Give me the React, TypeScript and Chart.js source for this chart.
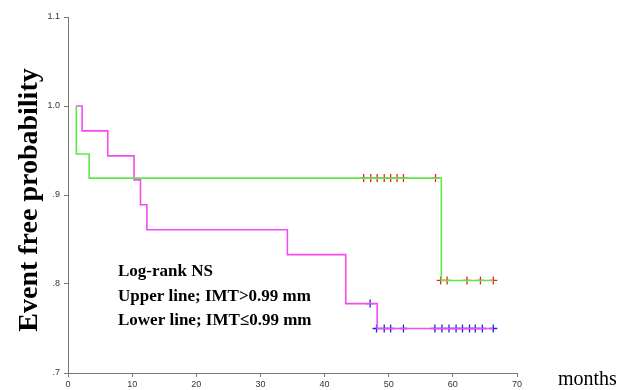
import React, { useEffect, useRef } from "react";
import { Chart, registerables } from "chart.js";

Chart.register(...registerables);

// Upper line (IMT > 0.99 mm) – step function
const upperTimes = [1.3, 1.3, 3.3, 58.2, 66.3];
const upperSurv = [1.0, 0.946, 0.919, 0.804, 0.804];
// Lower line (IMT ≤ 0.99 mm) – step function
const lowerTimes = [1.3, 2.2, 6.2, 10.3, 11.3, 12.3, 34.2, 43.3, 48.2, 66.3];
const lowerSurv = [1.0, 0.972, 0.944, 0.917, 0.889, 0.861, 0.833, 0.778, 0.75, 0.75];
// Censored observations
const upperCensorTimes = [46.1, 47.2, 48.2, 49.3, 50.3, 51.3, 52.3, 57.3, 58.1, 59.1, 62.2, 64.3, 66.3];
const upperCensorSurv = [0.919, 0.919, 0.919, 0.919, 0.919, 0.919, 0.919, 0.919, 0.804, 0.804, 0.804, 0.804, 0.804];
const lowerCensorTimes = [47.1, 48.1, 49.3, 50.3, 52.3, 57.2, 58.3, 59.4, 60.5, 61.5, 62.6, 63.5, 64.6, 66.3];
const lowerCensorSurv = [0.778, 0.75, 0.75, 0.75, 0.75, 0.75, 0.75, 0.75, 0.75, 0.75, 0.75, 0.75, 0.75, 0.75];

const xTicks = [0, 10, 20, 30, 40, 50, 60, 70];
const yTickValues = [0.7, 0.8, 0.9, 1.0, 1.1];
const yTickLabels = [".7", ".8", ".9", "1.0", "1.1"];

const annotationLines = ["Log-rank NS", "Upper line; IMT>0.99 mm", "Lower line; IMT\u22640.99 mm"];
const yTitle = "Event free probability";
const xTitle = "months";

const pts = (xs: number[], ys: number[]) => xs.map((x, i) => ({ x, y: ys[i] }));

export default function App() {
  const ref = useRef<HTMLCanvasElement | null>(null);

  useEffect(() => {
    if (!ref.current) return;
    const textPlugin = {
      id: "texts",
      afterDraw(chart: any) {
        const ctx = chart.ctx;
        const area = chart.chartArea;
        ctx.save();
        // y title
        ctx.fillStyle = "#000";
        ctx.font = "bold 28px 'Liberation Serif', 'Times New Roman', serif";
        ctx.textAlign = "center";
        ctx.textBaseline = "middle";
        ctx.translate(30, 200);
        ctx.rotate(-Math.PI / 2);
        ctx.fillText(yTitle, 0, 0);
        ctx.restore();

        ctx.save();
        ctx.fillStyle = "#000";
        ctx.font = "20px 'Liberation Serif', 'Times New Roman', serif";
        ctx.textAlign = "left";
        ctx.textBaseline = "middle";
        ctx.fillText(xTitle, area.right + 41, 380);

        ctx.font = "bold 17px 'Liberation Serif', 'Times New Roman', serif";
        const ys = [272, 297, 321];
        annotationLines.forEach((t, i) => ctx.fillText(t, 118, ys[i]));
        ctx.restore();
      },
    };

    const chart = new Chart(ref.current, {
      type: "scatter",
      data: {
        datasets: [
          {
            data: pts(upperTimes, upperSurv),
            showLine: true,
            stepped: "before",
            borderColor: "#5fe84a",
            borderWidth: 1.6,
            pointRadius: 0,
          },
          {
            data: pts(lowerTimes, lowerSurv),
            showLine: true,
            stepped: "before",
            borderColor: "#f24cf2",
            borderWidth: 1.6,
            pointRadius: 0,
          },
          {
            data: pts(upperCensorTimes, upperCensorSurv),
            showLine: false,
            pointStyle: "cross",
            pointRadius: 4,
            borderColor: "#ee2020",
            borderWidth: 1.3,
          },
          {
            data: pts(lowerCensorTimes, lowerCensorSurv),
            showLine: false,
            pointStyle: "cross",
            pointRadius: 4,
            borderColor: "#2020dd",
            borderWidth: 1.3,
          },
        ],
      },
      options: {
        animation: false,
        responsive: false,
        layout: { padding: { left: 0, right: 103, top: 17, bottom: 0 } },
        plugins: { legend: { display: false }, tooltip: { enabled: false } },
        scales: {
          x: {
            type: "linear",
            min: 0,
            max: 70,
            afterFit: (s: any) => {
              s.height = 17;
            },
            afterBuildTicks: (s: any) => {
              s.ticks = xTicks.map((v) => ({ value: v }));
            },
            ticks: {
              color: "#333",
              font: { family: "Arial, 'Liberation Sans', sans-serif", size: 9 },
              padding: 2,
            },
            grid: { display: true, drawOnChartArea: false, tickLength: 4, color: "#777" },
            border: { color: "#777", width: 1 },
          },
          y: {
            min: 0.7,
            max: 1.1,
            afterFit: (s: any) => {
              s.width = 68;
            },
            afterBuildTicks: (s: any) => {
              s.ticks = yTickValues.map((v) => ({ value: v }));
            },
            ticks: {
              color: "#333",
              font: { family: "Arial, 'Liberation Sans', sans-serif", size: 9 },
              padding: 4,
              callback: (_v: any, i: number) => yTickLabels[i],
            },
            grid: { display: true, drawOnChartArea: false, tickLength: 4, color: "#777" },
            border: { color: "#777", width: 1 },
          },
        },
      },
      plugins: [textPlugin],
    });
    return () => chart.destroy();
  }, []);

  return (
    <div style={{ position: "fixed", left: 0, top: 0, width: 620, height: 390, background: "#fff" }}>
      <canvas ref={ref} width={620} height={390} style={{ width: 620, height: 390 }} />
    </div>
  );
}
